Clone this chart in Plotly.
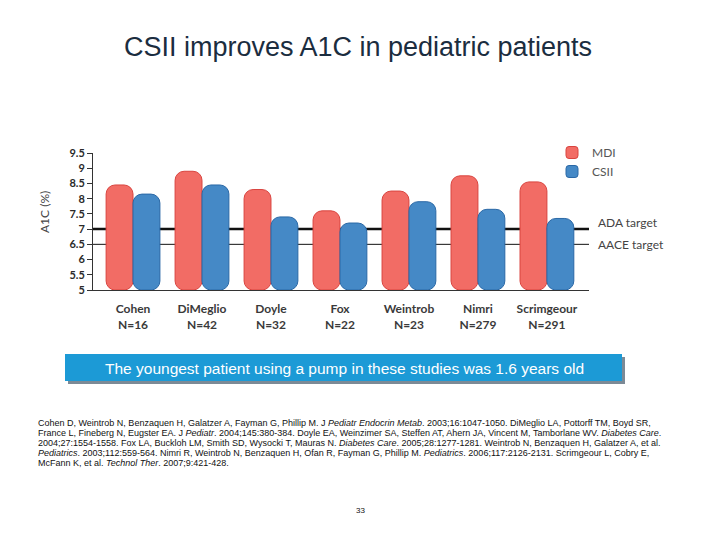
import plotly.graph_objects as go

# ---- data ----
studies = ["Cohen", "DiMeglio", "Doyle", "Fox", "Weintrob", "Nimri", "Scrimgeour"]
n_patients = ["N=16", "N=42", "N=32", "N=22", "N=23", "N=279", "N=291"]
mdi_a1c = [8.45, 8.9, 8.3, 7.6, 8.25, 8.75, 8.55]
csii_a1c = [8.15, 8.45, 7.4, 7.2, 7.9, 7.65, 7.35]
y_ticks = [5, 5.5, 6, 6.5, 7, 7.5, 8, 8.5, 9, 9.5]
ada_target = 7.0
aace_target = 6.5
y_floor = 5

title_text = "CSII improves A1C in pediatric patients"
banner_text = "The youngest patient using a pump in these studies was 1.6 years old"
refs_lines = [
    "Cohen D, Weintrob N, Benzaquen H, Galatzer A, Fayman G, Phillip M. J <i>Pediatr Endocrin Metab</i>. 2003;16:1047-1050. DiMeglio LA, Pottorff TM, Boyd SR,",
    "France L, Fineberg N, Eugster EA. J <i>Pediatr</i>. 2004;145:380-384. Doyle EA, Weinzimer SA, Steffen AT, Ahern JA, Vincent M, Tamborlane WV. <i>Diabetes Care</i>.",
    "2004;27:1554-1558. Fox LA, Buckloh LM, Smith SD, Wysocki T, Mauras N. <i>Diabetes Care</i>. 2005;28:1277-1281. Weintrob N, Benzaquen H, Galatzer A, et al.",
    "<i>Pediatrics</i>. 2003;112:559-564. Nimri R, Weintrob N, Benzaquen H, Ofan R, Fayman G, Phillip M. <i>Pediatrics</i>. 2006;117:2126-2131. Scrimgeour L, Cobry E,",
    "McFann K, et al. <i>Technol Ther</i>. 2007;9:421-428.",
]
page_number = "33"

cat_labels = [f"{s}<br>{n}" for s, n in zip(studies, n_patients)]
x_idx = list(range(len(studies)))

# ---- geometry: screen pixels in the 720x540 window (page body has an 8px margin) ----
OFF = 8
L, R, T, B = 93, 589, 153, 290          # plot area on screen
PW, PH = R - L, B - T
def px(xs):
    return (xs - L) / PW
def py(ys):
    return (B - ys) / PH

chart_font = "Lato, 'Open Sans', sans-serif"
slide_font = "Arial, 'Liberation Sans', sans-serif"

fig = go.Figure()
fig.add_trace(go.Bar(
    x=x_idx, y=[v - y_floor for v in mdi_a1c], base=y_floor, name="MDI",
    marker=dict(color="#f26c65", line=dict(color="#d9443f", width=1)),
))
fig.add_trace(go.Bar(
    x=x_idx, y=[v - y_floor for v in csii_a1c], base=y_floor, name="CSII",
    marker=dict(color="#4589c6", line=dict(color="#2a68a6", width=1)),
))

fig.update_layout(
    width=720, height=540,
    margin=dict(l=L - OFF, r=720 - (R - OFF), t=T - OFF, b=540 - (B - OFF), pad=0),
    paper_bgcolor="white", plot_bgcolor="white",
    barmode="group", bargap=0.22, bargroupgap=0.0, barcornerradius=9,
    title=dict(text=title_text, x=(358 - OFF) / 720, xref="container", xanchor="center",
               y=1 - (47 - OFF) / 540, yref="container", yanchor="middle",
               font=dict(family=slide_font, size=27, color="#1b2d3f")),
    legend=dict(x=px(552), y=py(138), xanchor="left", yanchor="top",
                bgcolor="rgba(0,0,0,0)", font=dict(family=chart_font, size=12, color="#555555"),
                tracegroupgap=0, itemwidth=30),
    xaxis=dict(tickmode="array", tickvals=x_idx, ticktext=cat_labels,
               range=[-0.58, 6.61], showline=True, linecolor="#333333", linewidth=1,
               ticks="", showgrid=False, zeroline=False, ticklabelstandoff=8,
               tickfont=dict(family=chart_font, size=12, color="#3a3a3a", weight="bold")),
    yaxis=dict(tickmode="array", tickvals=y_ticks, ticktext=[f"{v:g}" for v in y_ticks],
               range=[y_floor, 9.5], showline=True, linecolor="#333333", linewidth=1,
               ticks="outside", ticklen=5, tickcolor="#333333", showgrid=False, zeroline=False,
               tickfont=dict(family=chart_font, size=11, color="#2a2a2a", weight="bold")),
    showlegend=True,
)

# target lines
fig.add_shape(type="line", xref="paper", yref="y", x0=0, x1=1, y0=ada_target, y1=ada_target,
              line=dict(color="#111111", width=2.5), layer="below")
fig.add_shape(type="line", xref="paper", yref="y", x0=0, x1=1, y0=aace_target, y1=aace_target,
              line=dict(color="#111111", width=1), layer="below")

annotations = [
    dict(text="ADA target", x=px(596), y=ada_target, xref="paper", yref="y", xanchor="left",
         yanchor="middle", yshift=7, showarrow=False, font=dict(family=chart_font, size=12, color="#444444")),
    dict(text="AACE target", x=px(596), y=aace_target, xref="paper", yref="y", xanchor="left",
         yanchor="middle", showarrow=False, font=dict(family=chart_font, size=12, color="#444444")),
    dict(text="A1C (%)", x=px(44), y=py(212), xref="paper", yref="paper", textangle=-90,
         xanchor="center", yanchor="middle", showarrow=False,
         font=dict(family=chart_font, size=12, color="#444444")),
    dict(text=banner_text, x=px(344), y=py(368), xref="paper", yref="paper",
         xanchor="center", yanchor="middle", showarrow=False,
         font=dict(family=slide_font, size=15.5, color="white")),
    dict(text=page_number, x=px(360), y=py(510), xref="paper", yref="paper",
         xanchor="center", yanchor="middle", showarrow=False,
         font=dict(family=slide_font, size=8, color="#111111")),
]
for i, line in enumerate(refs_lines):
    annotations.append(dict(
        text=line, x=px(36), y=py(423 + 10 * i), xref="paper", yref="paper", align="left",
        xanchor="left", yanchor="middle", showarrow=False,
        font=dict(family=slide_font, size=9, color="#111111")))
fig.update_layout(annotations=annotations)

# banner with shadow
fig.add_shape(type="rect", xref="paper", yref="paper",
              x0=px(68), x1=px(625), y0=py(384), y1=py(357),
              fillcolor="#7c8a96", line=dict(width=0), layer="below")
fig.add_shape(type="rect", xref="paper", yref="paper",
              x0=px(65), x1=px(622), y0=py(381), y1=py(354),
              fillcolor="#1c9ad6", line=dict(width=0), layer="below")

fig.write_html("out.html")
